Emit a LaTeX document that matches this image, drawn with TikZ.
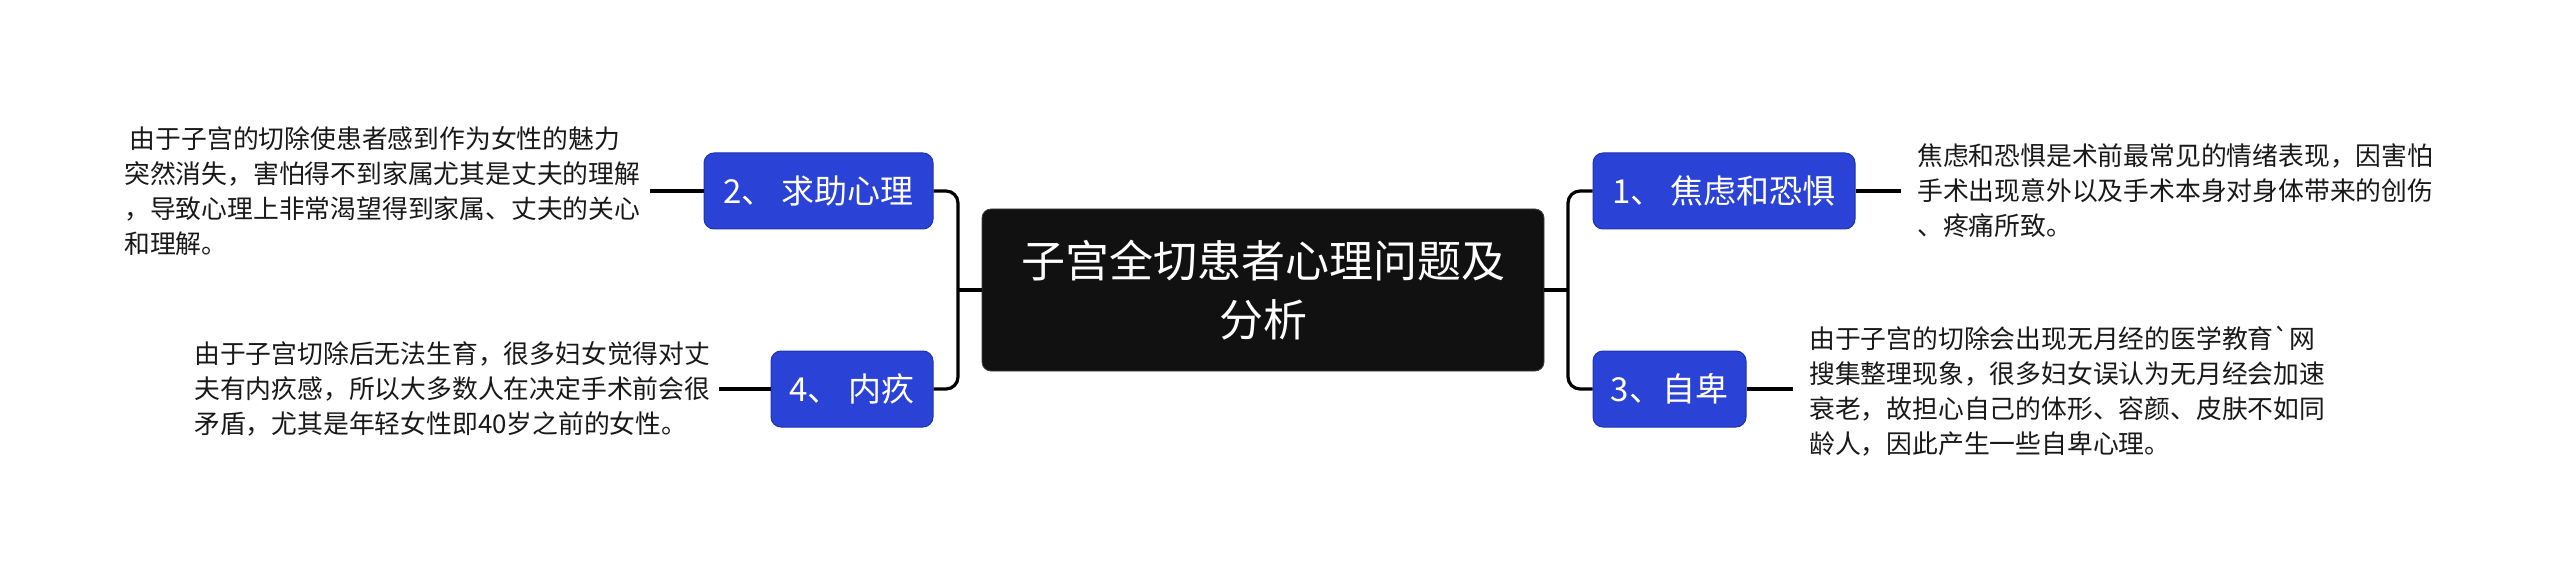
\documentclass[tikz,border=0pt]{standalone}
\usepackage{fontspec}
\setmainfont{Noto Sans CJK SC}[Ligatures=TeXOff]
\definecolor{boxblue}{HTML}{2A42D6}
\definecolor{boxblueedge}{HTML}{1E33B4}
\definecolor{rootfill}{HTML}{111111}
\begin{document}
\begin{tikzpicture}[x=1pt,y=-1pt,
  conn/.style={draw=black,line width=3.2pt,rounded corners=12pt},
  rootbox/.style={fill=rootfill,draw=rootfill!80!white,line width=0.8pt,rounded corners=9pt,
    text=white,align=center,font=\fontsize{44}{59}\selectfont,minimum width=562pt,minimum height=162pt,inner sep=0pt},
  subbox/.style={fill=boxblue,draw=boxblueedge,line width=1pt,rounded corners=10pt,
    text=white,font=\fontsize{33}{40}\selectfont,minimum height=76pt,inner sep=0pt},
  leaf/.style={align=left,font=\fontsize{25.8}{35}\selectfont,text=black!90,inner sep=0pt}]
\path[fill=white] (0,0) rectangle (2560,580);
\useasboundingbox (0,0) rectangle (2560,580);

\node[rootbox] (root) at (1263,290) {子宫全切患者心理问题及\\分析};

\node[subbox,minimum width=229pt] (b2) at (818.5,191) {2、 求助心理};
\node[subbox,minimum width=162pt] (b4) at (852,389) {4、 内疚};
\node[subbox,minimum width=262pt] (b1) at (1724,191) {1、 焦虑和恐惧};
\node[subbox,minimum width=153pt] (b3) at (1669.5,389) {3、自卑};

\coordinate (tl) at (958,290);
\coordinate (tr) at (1568,290);

\node[leaf,anchor=west] (t2) at (124,191) {\ 由于子宫的切除使患者感到作为女性的魅力\\突然消失，害怕得不到家属尤其是丈夫的理解\\，导致心理上非常渴望得到家属、丈夫的关心\\和理解。};
\node[leaf,anchor=west] (t4) at (194,389) {由于子宫切除后无法生育，很多妇女觉得对丈\\夫有内疚感，所以大多数人在决定手术前会很\\矛盾，尤其是年轻女性即40岁之前的女性。};
\node[leaf,anchor=west] (t1) at (1917,191) {焦虑和恐惧是术前最常见的情绪表现，因害怕\\手术出现意外以及手术本身对身体带来的创伤\\、疼痛所致。};
\node[leaf,anchor=west] (t3) at (1809,391) {由于子宫的切除会出现无月经的医学教育`网\\搜集整理现象，很多妇女误认为无月经会加速\\衰老，故担心自己的体形、容颜、皮肤不如同\\龄人，因此产生一些自卑心理。};

\draw[conn] (root.west) -- (tl);
\draw[conn] (b2.east) -| (tl) |- (b4.east);
\draw[conn] (root.east) -- (tr);
\draw[conn] (b1.west) -| (tr) |- (b3.west);

\draw[conn] (b2.west) -- ([xshift=10pt]t2.east |- b2.west);
\draw[conn] (b4.west) -- ([xshift=-52pt]b4.west);
\draw[conn] (b1.east) -- ([xshift=-16pt]t1.west |- b1.east);
\draw[conn] (b3.east) -- ([xshift=-16pt]t3.west |- b3.east);
\end{tikzpicture}
\end{document}
